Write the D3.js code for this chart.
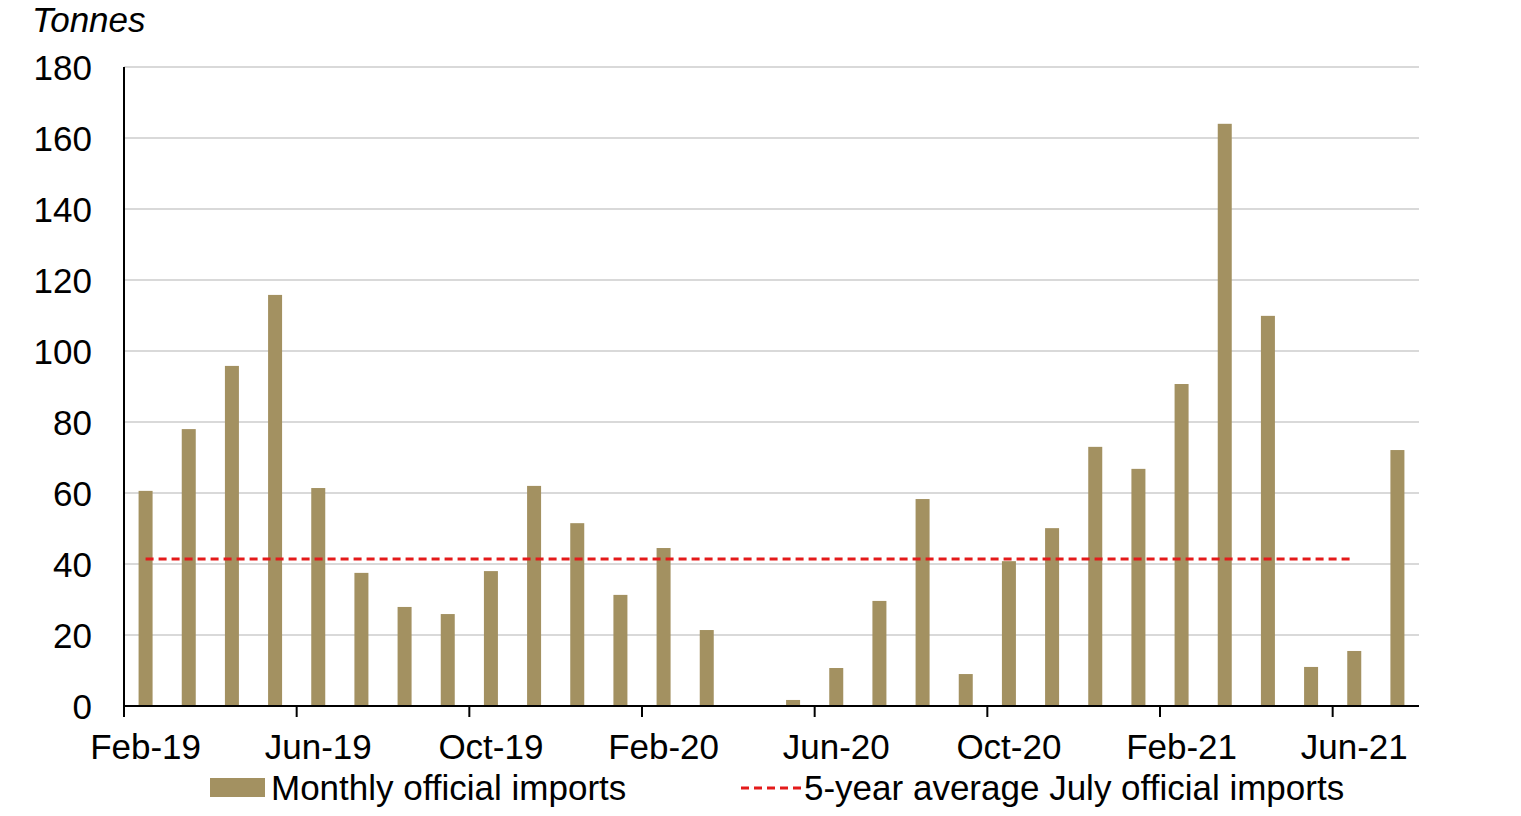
<!DOCTYPE html>
<html>
<head>
<meta charset="utf-8">
<script src="https://cdn.jsdelivr.net/npm/d3@7"></script>
<style>
    body { margin: 0; background: #fff; }
    text { font-family: Arial, "Liberation Sans", sans-serif; fill: #000; }
</style>
</head>
<body>
<div id="chart"></div>
<script>
// Months on the x axis
const months = [
    "Feb-19", "Mar-19", "Apr-19", "May-19", "Jun-19", "Jul-19", "Aug-19", "Sep-19", "Oct-19", "Nov-19", "Dec-19",
    "Jan-20", "Feb-20", "Mar-20", "Apr-20", "May-20", "Jun-20", "Jul-20", "Aug-20", "Sep-20", "Oct-20", "Nov-20", "Dec-20",
    "Jan-21", "Feb-21", "Mar-21", "Apr-21", "May-21", "Jun-21", "Jul-21"
];

// Monthly official imports (tonnes)
const imports = [
    60.6, 78, 95.8, 115.8, 61.4, 37.5, 27.9, 25.9, 38, 62, 51.5,
    31.3, 44.5, 21.4, 0, 1.7, 10.7, 29.6, 58.3, 9, 40.8, 50.1, 73,
    66.8, 90.7, 164, 109.9, 11, 15.5, 72.1
];

// 5-year average July official imports, drawn from first month to Jun-21
const avgValue = 41.4;
const avgStart = "Feb-19";
const avgEnd = "Jun-21";

// Tick labels shown on the x axis
const xTickLabels = ["Feb-19", "Jun-19", "Oct-19", "Feb-20", "Jun-20", "Oct-20", "Feb-21", "Jun-21"];
const yTicks = [0, 20, 40, 60, 80, 100, 120, 140, 160, 180];

const W = 1521, H = 816;
const margin = { top: 67, right: 102, bottom: 110, left: 124 };
const width = W - margin.left - margin.right;
const height = H - margin.top - margin.bottom;
const fontSize = "35px";

const svg = d3.select("#chart").append("svg")
    .attr("width", W)
    .attr("height", H);

const g = svg.append("g")
    .attr("transform", "translate(" + margin.left + "," + margin.top + ")");

// Scales
const x = d3.scaleBand()
    .domain(months)
    .range([0, width])
    .padding(0);

const y = d3.scaleLinear()
    .domain([0, 180])
    .range([height, 0]);

const barWidth = 14;
const centre = m => x(m) + x.bandwidth() / 2;

// Gridlines
g.selectAll("line.grid")
    .data(yTicks.filter(d => d > 0))
    .enter().append("line")
    .attr("class", "grid")
    .attr("x1", 0)
    .attr("x2", width)
    .attr("y1", d => y(d))
    .attr("y2", d => y(d))
    .style("stroke", "#d9d9d9")
    .style("stroke-width", 2);

// Bars
g.selectAll("rect.bar")
    .data(months.map((m, i) => ({ month: m, value: imports[i] })))
    .enter().append("rect")
    .attr("class", "bar")
    .attr("x", d => centre(d.month) - barWidth / 2)
    .attr("y", d => y(d.value))
    .attr("width", barWidth)
    .attr("height", d => y(0) - y(d.value))
    .style("fill", "#a39161");

// Average line
g.append("line")
    .attr("x1", centre(avgStart))
    .attr("x2", centre(avgEnd))
    .attr("y1", y(avgValue))
    .attr("y2", y(avgValue))
    .style("stroke", "#e41a1a")
    .style("stroke-width", 3)
    .style("stroke-dasharray", "8,5");

// Y axis
g.append("line")
    .attr("x1", 0).attr("x2", 0)
    .attr("y1", 0).attr("y2", height)
    .style("stroke", "#000")
    .style("stroke-width", 2);

g.selectAll("text.ylab")
    .data(yTicks)
    .enter().append("text")
    .attr("class", "ylab")
    .attr("x", -32)
    .attr("y", d => y(d))
    .attr("dy", "0.36em")
    .attr("text-anchor", "end")
    .style("font-size", fontSize)
    .text(d => d);

// X axis line
g.append("line")
    .attr("x1", 0).attr("x2", width)
    .attr("y1", height).attr("y2", height)
    .style("stroke", "#000")
    .style("stroke-width", 2);

// X ticks between categories, every 4 months
const tickMonths = months.filter((m, i) => i % 4 === 0);
g.selectAll("line.xtick")
    .data(tickMonths)
    .enter().append("line")
    .attr("class", "xtick")
    .attr("x1", d => x(d))
    .attr("x2", d => x(d))
    .attr("y1", height)
    .attr("y2", height + 11)
    .style("stroke", "#000")
    .style("stroke-width", 2);

g.selectAll("text.xlab")
    .data(xTickLabels)
    .enter().append("text")
    .attr("class", "xlab")
    .attr("x", d => centre(d))
    .attr("y", height + 53)
    .attr("text-anchor", "middle")
    .style("font-size", fontSize)
    .text(d => d);

// Unit label
svg.append("text")
    .attr("x", 32)
    .attr("y", 32)
    .style("font-size", fontSize)
    .style("font-style", "italic")
    .text("Tonnes");

// Legend
const legend = svg.append("g");
legend.append("rect")
    .attr("x", 210)
    .attr("y", 778)
    .attr("width", 55)
    .attr("height", 19)
    .style("fill", "#a39161");
legend.append("text")
    .attr("x", 271)
    .attr("y", 800)
    .style("font-size", fontSize)
    .text("Monthly official imports");
legend.append("line")
    .attr("x1", 741).attr("x2", 801)
    .attr("y1", 788).attr("y2", 788)
    .style("stroke", "#e41a1a")
    .style("stroke-width", 3)
    .style("stroke-dasharray", "8,5");
legend.append("text")
    .attr("x", 804)
    .attr("y", 800)
    .style("font-size", fontSize)
    .text("5-year average July official imports");
</script>
</body>
</html>
